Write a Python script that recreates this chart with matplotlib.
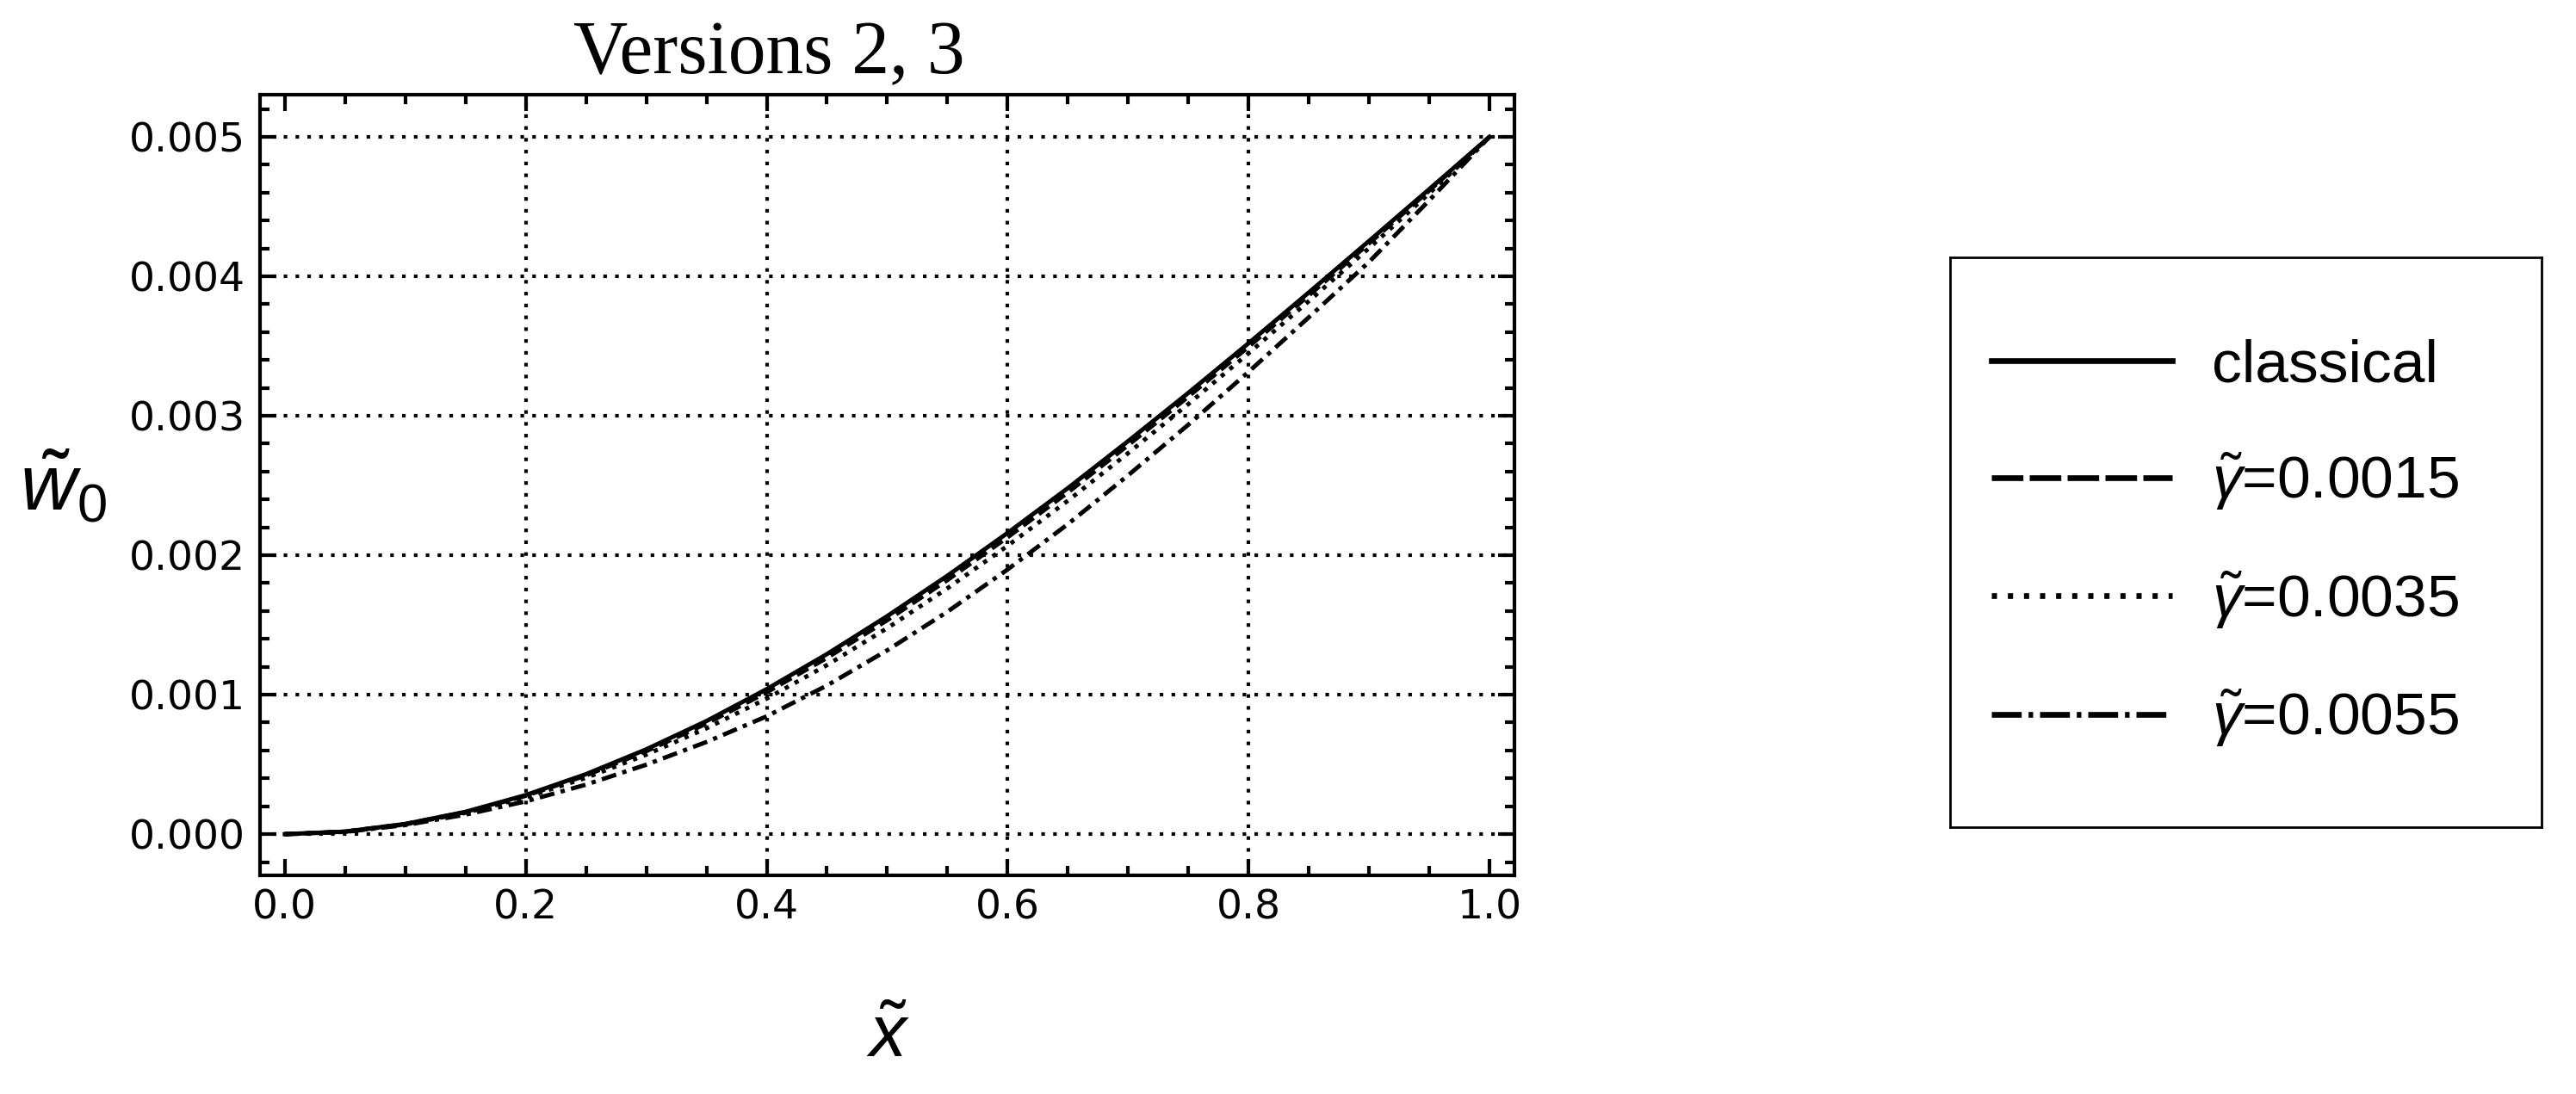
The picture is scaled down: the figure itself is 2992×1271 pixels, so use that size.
import matplotlib
matplotlib.use('Agg')
import matplotlib.pyplot as plt
from matplotlib.lines import Line2D
from matplotlib.ticker import MultipleLocator

plt.rcParams['mathtext.fontset'] = 'custom'
plt.rcParams['mathtext.rm'] = 'Liberation Sans'
plt.rcParams['mathtext.it'] = 'Liberation Sans:italic'

# values
x_vals = [0.0, 0.05, 0.1, 0.15, 0.2, 0.25, 0.3, 0.35, 0.4, 0.45, 0.5,
          0.55, 0.6, 0.65, 0.7, 0.75, 0.8, 0.85, 0.9, 0.95, 1.0]
w_classical = [0.0, 0.000018, 0.000073, 0.000160, 0.000280, 0.000430, 0.000608,
               0.000811, 0.001040, 0.001291, 0.001563, 0.001853, 0.002160,
               0.002481, 0.002818, 0.003164, 0.003520, 0.003884, 0.004253,
               0.004625, 0.005000]
w_g0015 = [0.0, 0.000018, 0.000072, 0.000158, 0.000275, 0.000421, 0.000595,
           0.000793, 0.001017, 0.001264, 0.001534, 0.001822, 0.002129,
           0.002450, 0.002789, 0.003137, 0.003495, 0.003863, 0.004236,
           0.004615, 0.005000]
w_g0035 = [0.0, 0.000017, 0.000070, 0.000153, 0.000264, 0.000404, 0.000570,
           0.000759, 0.000972, 0.001212, 0.001477, 0.001763, 0.002068,
           0.002391, 0.002732, 0.003084, 0.003448, 0.003822, 0.004202,
           0.004595, 0.005000]
w_g0055 = [0.0, 0.000016, 0.000065, 0.000140, 0.000235, 0.000355, 0.000498,
           0.000661, 0.000845, 0.001066, 0.001318, 0.001595, 0.001898,
           0.002223, 0.002573, 0.002936, 0.003315, 0.003706, 0.004103,
           0.004545, 0.005000]

labels = ['classical', r'$\tilde{\gamma}$=0.0015',
          r'$\tilde{\gamma}$=0.0035', r'$\tilde{\gamma}$=0.0055']
x_ticks = [0.0, 0.2, 0.4, 0.6, 0.8, 1.0]
x_ticklabels = ['0.0', '0.2', '0.4', '0.6', '0.8', '1.0']
y_ticks = [0.0, 0.001, 0.002, 0.003, 0.004, 0.005]
y_ticklabels = ['0.000', '0.001', '0.002', '0.003', '0.004', '0.005']
grid_x = [0.2, 0.4, 0.6, 0.8]
grid_y = y_ticks

fig = plt.figure(figsize=(29.92, 12.71), dpi=100)
ax = fig.add_axes([0.1009, 0.1998, 0.4870, 0.7136])

# dotted grid
for gx in grid_x:
    ax.axvline(gx, color='black', lw=3, dashes=(1, 2.3), zorder=1)
for gy in grid_y:
    ax.axhline(gy, color='black', lw=3, dashes=(1, 2.3), zorder=1)

styles = [dict(ls='-'), dict(dashes=(3, 1.5)), dict(dashes=(1, 1.6)),
          dict(dashes=(3.5, 1.5, 1, 1.5))]
for ys, st in zip([w_classical, w_g0015, w_g0035, w_g0055], styles):
    ax.plot(x_vals, ys, color='black', lw=3.6, zorder=3, **st)

ax.set_xlim(-0.0207, 1.0207)
ax.set_ylim(-0.000296, 0.005302)
ax.set_xticks(x_ticks)
ax.set_xticklabels(x_ticklabels)
ax.set_yticks(y_ticks)
ax.set_yticklabels(y_ticklabels)
ax.xaxis.set_minor_locator(MultipleLocator(0.05))
ax.yaxis.set_minor_locator(MultipleLocator(0.0002))
ax.tick_params(which='both', direction='in', top=True, right=True,
               width=3, labelsize=34, color='black')
ax.tick_params(which='major', length=13.5)
ax.tick_params(which='minor', length=8)
ax.tick_params(axis='y', pad=12)
ax.tick_params(axis='x', pad=11)
for sp in ax.spines.values():
    sp.set_linewidth(3)

ax.set_ylabel(r'$\tilde{w}_0$', fontsize=65, rotation=0, ha='left', va='baseline')
ax.yaxis.set_label_coords(-0.1915, 0.4686)
ax.set_xlabel(r'$\tilde{x}$', fontsize=62, ha='center', va='baseline')
ax.xaxis.set_label_coords(0.501, -0.2326)

fig.text(0.2985, 0.933, 'Versions 2, 3', family='Liberation Serif',
         fontsize=63, ha='center', va='baseline')

# legend in its own framed box
lax = fig.add_axes([0.7570, 0.2439, 0.2296, 0.5209])
lax.set_xticks([])
lax.set_yticks([])
for sp in lax.spines.values():
    sp.set_linewidth(2)
leg_styles = [dict(ls='-'), dict(dashes=(5.5, 1.1)), dict(dashes=(0.9, 1.9)),
              dict(dashes=(5.2, 1.2, 0.8, 1.2))]
handles = [Line2D([], [], color='black', lw=4.8, **st) for st in leg_styles]
lax.legend(handles, labels, loc='center left', bbox_to_anchor=(0.0699, 0.497),
           frameon=False, borderpad=0, borderaxespad=0, handlelength=3.03,
           handletextpad=0.65, labelspacing=0.95,
           prop={'family': 'Liberation Sans', 'size': 50})

fig.savefig('out.png', dpi=100)
